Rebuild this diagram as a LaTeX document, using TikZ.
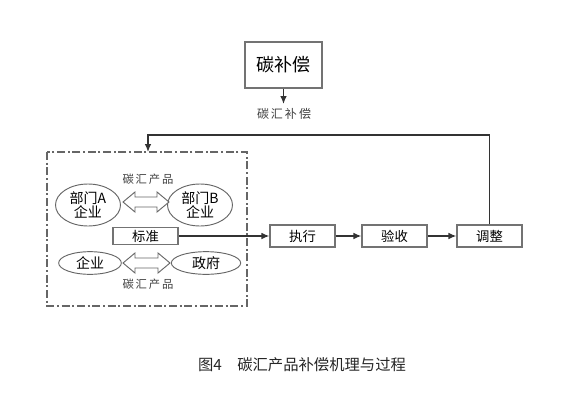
\documentclass[tikz,border=0pt]{standalone}
\usepackage{fontspec}
\setmainfont{Noto Sans CJK SC}
\usetikzlibrary{arrows.meta,shapes.geometric}
\begin{document}
\begin{tikzpicture}[x=0.75pt,y=-0.75pt,
  boxst/.style={draw=black!55, line width=0.9pt, fill=white, inner sep=0pt},
  ellst/.style={draw=black!60, line width=0.7pt, ellipse, inner sep=0pt},
  lbl/.style={font=\fontsize{8.5}{10}\selectfont, text=black!75},
  conn/.style={draw=black!80, line width=1pt, -{Latex[length=6pt,width=5pt]}},
  dbl/.style={draw=black!60, line width=0.7pt, fill=white}]
\useasboundingbox (0,0) rectangle (565,411);
% top box
\node[boxst, minimum width=57.75pt, minimum height=34.5pt, font=\fontsize{13.5}{15}\selectfont] (cbc) at (283.5,65) {碳补偿};
\coordinate (cbcend) at (283.5,104);
\draw[conn] (cbc.south) -- (cbcend);
\node[lbl, font=\fontsize{9}{10}\selectfont] (cbcl) at (284,114) {碳\,汇\,补\,偿};
% dashed frame
\draw[black!60, line width=0.8pt, dash pattern=on 6pt off 2pt on 1.5pt off 2pt] (47,152) rectangle (247,306);
\coordinate (frametop) at (148,152);
% ellipses
\node[ellst, minimum width=48.75pt, minimum height=31.5pt, font=\fontsize{10.5}{12}\selectfont, align=center] (ea) at (88,205) {部门A\\[-2pt]企业};
\node[ellst, minimum width=48.75pt, minimum height=31.5pt, font=\fontsize{10.5}{12}\selectfont, align=center] (eb) at (200,205) {部门B\\[-2pt]企业};
\node[ellst, minimum width=47pt, minimum height=17pt, font=\fontsize{10.5}{12}\selectfont] (ec) at (90,263) {企业};
\node[ellst, minimum width=52pt, minimum height=17pt, font=\fontsize{10.5}{12}\selectfont] (ed) at (206,263) {政府};
% double arrows
\draw[dbl] (123,202) -- (135,192) -- (135,197) -- (157,197) -- (157,192) -- (169,202) -- (157,212) -- (157,207) -- (135,207) -- (135,212) -- cycle;
\draw[dbl] (123,263) -- (135,253) -- (135,258) -- (158,258) -- (158,253) -- (170,263) -- (158,273) -- (158,268) -- (135,268) -- (135,273) -- cycle;
\node[lbl] (l1) at (148,179) {碳\,汇\,产\,品};
\node[lbl] (l2) at (148,284) {碳\,汇\,产\,品};
% standard box
\node[boxst, minimum width=48.75pt, minimum height=12.5pt, font=\fontsize{10}{11}\selectfont] (bz) at (145.5,236) {标准};
% process boxes
\node[boxst, minimum width=48.75pt, minimum height=16.5pt, font=\fontsize{10}{11}\selectfont] (zx) at (302.5,236) {执行};
\node[boxst, minimum width=48.75pt, minimum height=16.5pt, font=\fontsize{10}{11}\selectfont] (ys) at (394.5,236) {验收};
\node[boxst, minimum width=48.75pt, minimum height=16.5pt, font=\fontsize{10}{11}\selectfont] (tz) at (489.5,236) {调整};
\draw[conn] (bz.east) -- (zx.west);
\draw[conn] (zx.east) -- (ys.west);
\draw[conn] (ys.east) -- (tz.west);
% feedback
\draw[conn] (tz.north) -- (489.5,135) -| (frametop);
% caption
\node[font=\fontsize{11.5}{13}\selectfont, text=black!85] (cap) at (302,365) {图4\quad 碳汇产品补偿机理与过程};
\end{tikzpicture}
\end{document}
